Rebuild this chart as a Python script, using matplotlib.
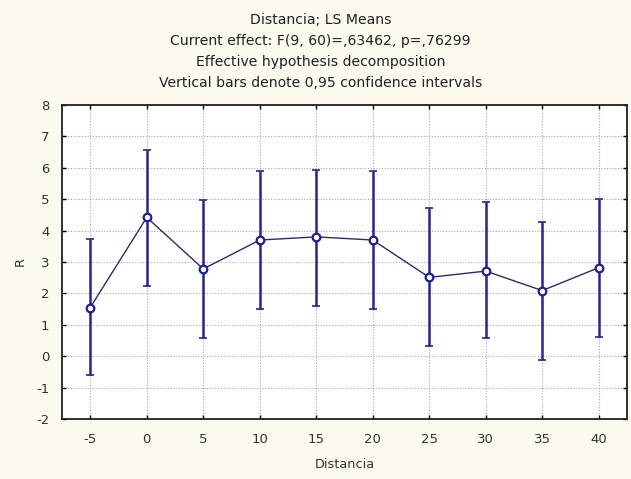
import matplotlib
matplotlib.use("Agg")
import matplotlib.pyplot as plt

# LS means of R by Distancia with 0.95 confidence limits
distancia = [-5, 0, 5, 10, 15, 20, 25, 30, 35, 40]
r_mean = [1.55, 4.42, 2.78, 3.70, 3.80, 3.70, 2.51, 2.71, 2.09, 2.82]
ci_upper = [3.73, 6.57, 4.97, 5.90, 5.93, 5.90, 4.72, 4.92, 4.27, 5.02]
ci_lower = [-0.60, 2.25, 0.57, 1.49, 1.60, 1.50, 0.34, 0.57, -0.12, 0.62]

title_lines = [
    "Distancia; LS Means",
    "Current effect: F(9, 60)=,63462, p=,76299",
    "Effective hypothesis decomposition",
    "Vertical bars denote 0,95 confidence intervals",
]

plt.rcParams["font.family"] = ["DejaVu Sans"]
plt.rcParams["axes.unicode_minus"] = False

navy = "#25258e"
fig = plt.figure(figsize=(6.31, 4.79), dpi=100, facecolor="#fcf9ee")
ax = fig.add_axes([62 / 631, 1 - 419 / 479, (627 - 62) / 631, (419 - 105) / 479])
ax.set_facecolor("white")

err_lo = [m - l for m, l in zip(r_mean, ci_lower)]
err_hi = [u - m for m, u in zip(r_mean, ci_upper)]
ax.errorbar(distancia, r_mean, yerr=[err_lo, err_hi], fmt="none",
            ecolor=navy, elinewidth=1.8, capsize=3, capthick=1.2, zorder=3)
ax.plot(distancia, r_mean, color="#2a2a70", lw=1.0, zorder=4,
        marker="o", ms=5.5, mfc="white", mec="#1c1ca0", mew=1.6)

ax.set_xlim(-7.5, 42.5)
ax.set_ylim(-2, 8)
ax.set_xticks(distancia)
ax.set_yticks(range(-2, 9))
ax.grid(True, color="#a8a8a8", linestyle=(0, (1, 1.5)), linewidth=0.8)
ax.set_axisbelow(True)
ax.tick_params(direction="in", length=3, width=1, labelsize=9.5,
               top=True, right=True, colors="black", labelcolor="#333333")
ax.tick_params(axis="x", pad=10)
ax.tick_params(axis="y", pad=9)
for s in ax.spines.values():
    s.set_linewidth(1.3)
    s.set_color("#202020")

ax.set_xlabel("Distancia", fontsize=9.3, color="#333333", labelpad=9)
ax.set_ylabel("R", fontsize=9.3, color="#333333", labelpad=7)

for i, line in enumerate(title_lines):
    fig.text(0.508, 1 - (20 + 21 * i) / 479, line, ha="center", va="center",
             fontsize=10.1, color="#222222")

fig.savefig("out.png", dpi=100, facecolor=fig.get_facecolor())
